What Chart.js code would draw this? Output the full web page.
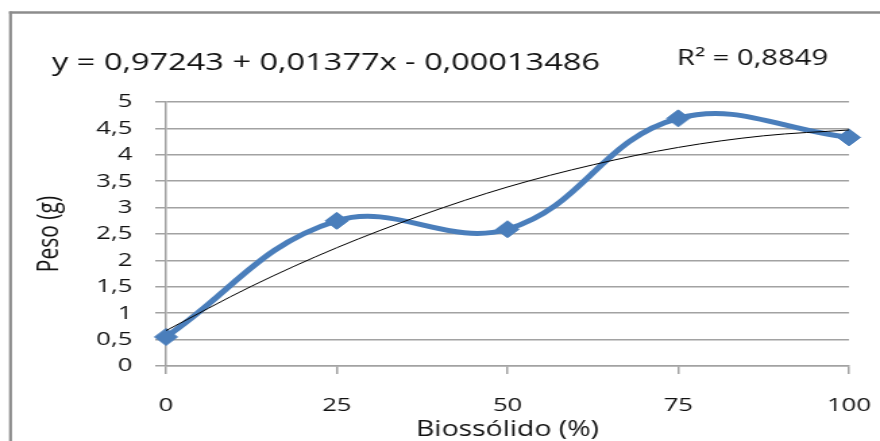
<!DOCTYPE html>
<html>
<head>
<meta charset="utf-8">
<script src="https://cdn.jsdelivr.net/npm/chart.js@4.4.1/dist/chart.umd.min.js"></script>
<style>
  html, body { margin: 0; padding: 0; background: #fff; overflow: hidden; }
  #wrap { width: 880px; height: 441px; overflow: hidden; }
  /* the drawing is laid out on a narrower canvas and widened to fill the frame */
  #c { display: block; width: 652px; height: 441px; transform: scaleX(1.34969); transform-origin: 0 0; }
</style>
</head>
<body>
<div id="wrap"><canvas id="c" width="652" height="441"></canvas></div>
<script>
// Dose de biossólido (%) e peso medido (g)
const doses = [0, 25, 50, 75, 100];
const peso = [0.55, 2.75, 2.59, 4.69, 4.33];

// Linha de tendência polinomial
const trendX = [0, 12.5, 25, 37.5, 50, 62.5, 75, 87.5, 100];
const trendY = [0.67, 1.51, 2.24, 2.86, 3.39, 3.81, 4.14, 4.36, 4.47];

const xTickLabels = ['0', '25', '50', '75', '100'];
const yTickLabels = ['0', '0,5', '1', '1,5', '2', '2,5', '3', '3,5', '4', '4,5', '5'];

const equationText = 'y = 0,97243 + 0,01377x - 0,00013486';
const r2Text = 'R\u00B2 = 0,8849';

const FONT = 'Open Sans';
const TEXT = '#121212';
const GRID = '#a2a2a2';
const BLUE = '#4a7ebb';

// draws text so that it spans exactly from left to right
function fitText(ctx, text, left, right, baseline, font) {
  ctx.save();
  ctx.font = font;
  ctx.fillStyle = TEXT;
  ctx.textBaseline = 'alphabetic';
  ctx.textAlign = 'left';
  const w = ctx.measureText(text).width;
  ctx.translate(left, baseline);
  ctx.scale((right - left) / w, 1);
  ctx.fillText(text, 0, 0);
  ctx.restore();
}

const framePlugin = {
  id: 'frame',
  beforeDraw(chart) {
    const ctx = chart.ctx;
    ctx.save();
    ctx.fillStyle = '#fff';
    ctx.fillRect(0, 0, chart.width, chart.height);
    ctx.strokeStyle = '#8c8c8c';
    ctx.lineWidth = 2.2;
    ctx.beginPath();
    ctx.moveTo(7.8, chart.height);
    ctx.lineTo(7.8, 11.5);
    ctx.stroke();
    ctx.lineWidth = 2.6;
    ctx.beginPath();
    ctx.moveTo(6.7, 12.5);
    ctx.lineTo(chart.width, 12.5);
    ctx.stroke();
    ctx.restore();
  },
  afterDraw(chart) {
    const ctx = chart.ctx;
    fitText(ctx, equationText, 38.5, 444.5, 69.5, '24px "' + FONT + '"');
    fitText(ctx, r2Text, 501.6, 613.5, 65, '22px "' + FONT + '"');
  }
};

Chart.defaults.font.family = FONT;
Chart.defaults.color = TEXT;

new Chart(document.getElementById('c'), {
  type: 'line',
  data: {
    datasets: [
      {
        label: 'Tendência',
        data: trendX.map((x, i) => ({ x: x, y: trendY[i] })),
        borderColor: '#000',
        borderWidth: 1,
        pointRadius: 0,
        cubicInterpolationMode: 'monotone',
        fill: false,
        order: 0
      },
      {
        label: 'Peso (g)',
        data: doses.map((x, i) => ({ x: x, y: peso[i] })),
        borderColor: BLUE,
        backgroundColor: BLUE,
        borderWidth: 5,
        tension: 0.4,
        pointStyle: 'rectRot',
        pointRadius: 8.5,
        pointBorderWidth: 1,
        pointBorderColor: BLUE,
        pointBackgroundColor: BLUE,
        fill: false,
        clip: false,
        order: 1
      }
    ]
  },
  options: {
    responsive: false,
    animation: false,
    devicePixelRatio: 1,
    layout: { padding: { left: 0, right: 23, top: 102, bottom: 0 } },
    plugins: { legend: { display: false }, tooltip: { enabled: false } },
    scales: {
      x: {
        type: 'linear',
        min: 0,
        max: 100,
        ticks: {
          stepSize: 25,
          callback: (v, i) => xTickLabels[i],
          padding: 20,
          maxRotation: 0,
          autoSkip: false,
          font: { family: FONT, size: 19 },
          color: TEXT
        },
        grid: { drawOnChartArea: false, drawTicks: true, tickLength: 8, color: GRID, lineWidth: 1.5 },
        border: { display: true, color: GRID, width: 1.5 },
        title: {
          display: true,
          text: 'Biossólido (%)',
          font: { family: FONT, size: 21, lineHeight: 1 },
          color: TEXT,
          padding: { top: 0, bottom: 0 }
        },
        afterFit: (s) => { s.height = 75; s.paddingLeft = 0; s.paddingRight = 0; }
      },
      y: {
        type: 'linear',
        min: 0,
        max: 5,
        ticks: {
          stepSize: 0.5,
          callback: (v, i) => yTickLabels[i],
          padding: 17,
          font: { family: FONT, size: 19 },
          color: TEXT
        },
        grid: { color: GRID, lineWidth: 1.5, tickLength: 8 },
        border: { display: true, color: GRID, width: 1.5 },
        title: {
          display: true,
          text: 'Peso (g)',
          font: { family: FONT, size: 21, lineHeight: 1 },
          color: TEXT,
          padding: { top: 26.5, bottom: 0 }
        },
        afterFit: (s) => { s.width = 123; }
      }
    }
  },
  plugins: [framePlugin]
});
</script>
</body>
</html>
